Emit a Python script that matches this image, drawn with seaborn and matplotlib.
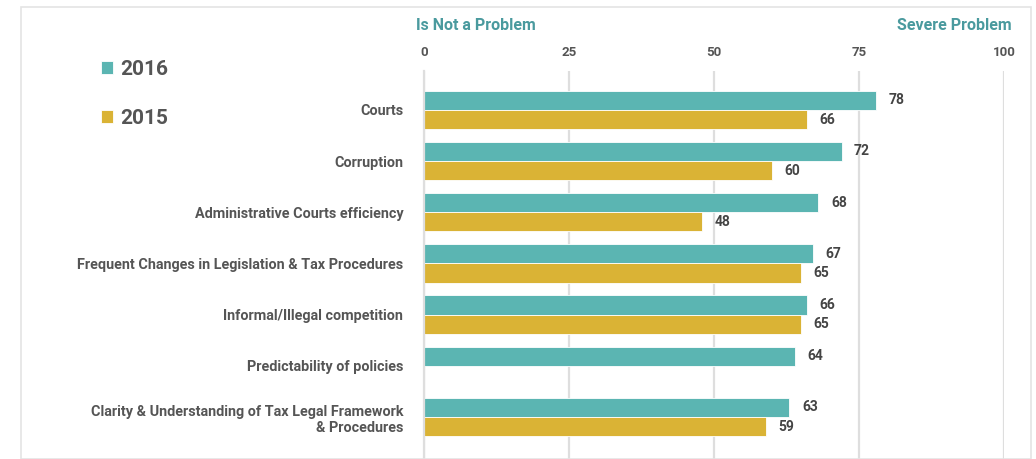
import pandas as pd
import seaborn as sns
import matplotlib.pyplot as plt
import numpy as np
from matplotlib.patches import Rectangle

# data
categories = [
    "Courts",
    "Corruption",
    "Administrative Courts efficiency",
    "Frequent Changes in Legislation & Tax Procedures",
    "Informal/Illegal competition",
    "Predictability of policies",
    "Clarity & Understanding of Tax Legal Framework\n& Procedures",
]
values_2016 = [78, 72, 68, 67, 66, 64, 63]
values_2015 = [66, 60, 48, 65, 65, np.nan, 59]
years = ["2016", "2015"]
x_ticks = [0, 25, 50, 75, 100]

teal = "#5bb5b2"
gold = "#dab335"
head_col = "#4a9a9e"
txt_col = "#555555"

df = pd.DataFrame({
    "category": categories * 2,
    "year": ["2016"] * len(categories) + ["2015"] * len(categories),
    "value": values_2016 + values_2015,
})

sns.set_theme(style="white")
plt.rcParams["font.family"] = ["Roboto", "DejaVu Sans"]

fig = plt.figure(figsize=(10.36, 4.59), dpi=100)
ax = fig.add_axes([424 / 1036, 0.0, 580 / 1036, 1 - 71 / 459])

sns.barplot(data=df, x="value", y="category", hue="year", hue_order=years,
            order=categories, palette=[teal, gold], saturation=1, width=0.75,
            orient="h", edgecolor="white", linewidth=0.6, ax=ax)

ax.set_xlim(0, 100)
ax.set_ylim(6.82, -0.76)
ax.set_xticks(x_ticks)
ax.xaxis.tick_top()
ax.tick_params(axis="x", length=0, pad=9, labelsize=9.5, labelcolor=txt_col)
ax.tick_params(axis="y", length=0, pad=15, labelsize=10.4, labelcolor=txt_col)
for lab in ax.get_xticklabels() + ax.get_yticklabels():
    lab.set_fontweight("bold")
ax.set_xlabel("")
ax.set_ylabel("")
ax.grid(axis="x", color="#dedede", linewidth=1.6)
ax.set_axisbelow(True)
for s in ["top", "right", "bottom"]:
    ax.spines[s].set_visible(False)
ax.spines["left"].set_color("#dedede")
ax.spines["left"].set_linewidth(1.6)

# value labels
for cont in ax.containers:
    labels = ["" if np.isnan(v) else f"{v:.0f}" for v in cont.datavalues]
    ax.bar_label(cont, labels=labels, padding=9, fontsize=10,
                 fontweight="bold", color="#444444")

# legend
handles, _ = ax.get_legend_handles_labels()
ax.legend(handles, years, loc="upper left", bbox_to_anchor=(82 / 1036, 1 - 41 / 459),
          bbox_transform=fig.transFigure, frameon=False,
          prop={"weight": "bold", "size": 15}, labelcolor=txt_col,
          handlelength=0.6, handleheight=0.6, handletextpad=0.35,
          labelspacing=1.45)

# header texts
fig.text(476 / 1036, 1 - 25 / 459, "Is Not a Problem", ha="center", va="center",
         fontsize=11.5, fontweight="bold", color=head_col)
fig.text(1012 / 1036, 1 - 25 / 459, "Severe Problem", ha="right", va="center",
         fontsize=11.5, fontweight="bold", color=head_col)

# outer frame
fig.patches.append(Rectangle((21 / 1036, 0), 1010 / 1036, 1 - 7 / 459,
                             transform=fig.transFigure, fill=False,
                             edgecolor="#e4e4e4", linewidth=1.2))

fig.savefig("out.png", dpi=100)
